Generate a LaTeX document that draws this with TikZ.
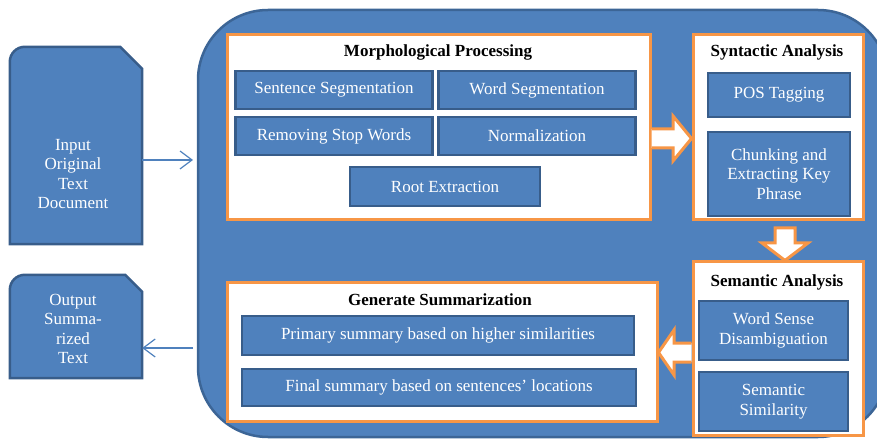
\documentclass[tikz,border=0pt]{standalone}
\usepackage{fontspec}
\setmainfont{Liberation Serif}
\usetikzlibrary{arrows.meta}
\definecolor{boxblue}{HTML}{4F81BD}
\definecolor{edgeblue}{HTML}{385D8A}
\definecolor{frameblue}{HTML}{3C6596}
\definecolor{boxorange}{HTML}{F79646}

\begin{document}
\begin{tikzpicture}[x=1pt,y=1pt,
   font=\fontsize{17}{19.5}\selectfont,
   stage/.style={draw=boxorange,line width=3pt,fill=white,inner sep=0pt},
   task/.style={draw=edgeblue,line width=2.5pt,fill=boxblue,text=white,align=center,inner sep=0pt},
   title/.style={font=\fontsize{17}{19.5}\selectfont\bfseries},
   doc/.style={draw=edgeblue,line width=2.5pt,fill=boxblue},
   doclabel/.style={text=white,align=center},
   flow/.style={draw=boxblue,line width=1.2pt,-{Straight Barb[length=12pt,width=18pt]}},
   barrow/.style={draw=boxorange,line width=3pt,fill=white,line join=miter}]
   \useasboundingbox (0,0) rectangle (877,439);
   \draw[draw=frameblue,fill=boxblue,line width=2.5pt,rounded corners=70pt] (198,2) rectangle (888,429);

   \node[minimum width=132pt,minimum height=197pt] (inp) at (76,293.5) {};
   \filldraw[doc] (inp.south west) -- ([yshift=-15pt]inp.north west) arc[start angle=180,end angle=90,radius=15pt]
     -- ([xshift=-22pt]inp.north east) -- ([yshift=-22pt]inp.north east) -- (inp.south east) -- cycle;
   \node[doclabel] (inplabel) at (73,265) {Input\\Original\\Text\\Document};
   \node[minimum width=132pt,minimum height=103pt] (outp) at (76,112.5) {};
   \filldraw[doc] (outp.south west) -- ([yshift=-15pt]outp.north west) arc[start angle=180,end angle=90,radius=15pt]
     -- ([xshift=-17pt]outp.north east) -- ([yshift=-17pt]outp.north east) -- (outp.south east) -- cycle;
   \node[doclabel] (outplabel) at (73,110) {Output\\Summa-\\rized\\Text};
   \coordinate (inarr) at (193,279);
   \coordinate (outarr) at (193,91);
   \draw[flow] (inp.east |- inarr) -- (inarr);
   \draw[flow] (outarr) -- (outarr -| outp.east);

   \node[stage,minimum width=423pt,minimum height=185pt] (morph) at (438.5,311.5) {};
   \node[title] (morphtitle) at (438,387) {Morphological Processing};
   \node[task,minimum width=197pt,minimum height=38pt] (sentseg) at (334,349) {Sentence Segmentation};
   \node[task,minimum width=197pt,minimum height=38pt] (wordseg) at (537,349) {Word Segmentation};
   \node[task,minimum width=197pt,minimum height=38pt] (stopw) at (334,303) {Removing Stop Words};
   \node[task,minimum width=197pt,minimum height=38pt] (norm) at (537,303) {Normalization};
   \node[task,minimum width=190pt,minimum height=39pt] (root) at (445,252.5) {Root Extraction};

   \node[stage,minimum width=170pt,minimum height=185pt] (synt) at (778,311.5) {};
   \node[title] (synttitle) at (777,387) {Syntactic Analysis};
   \node[task,minimum width=142pt,minimum height=44pt] (pos) at (779,344) {POS Tagging};
   \node[task,minimum width=142pt,minimum height=84pt] (chunk) at (779,265) {Chunking and\\Extracting Key\\Phrase};

   \node[stage,minimum width=170pt,minimum height=173pt] (sem) at (778,90.5) {};
   \node[title] (semtitle) at (777,157) {Semantic Analysis};
   \node[task,minimum width=149pt,minimum height=59pt] (wsd) at (773.5,108.5) {Word Sense\\Disambiguation};
   \node[task,minimum width=149pt,minimum height=59pt] (simil) at (773.5,37.5) {Semantic\\Similarity};

   \node[stage,minimum width=430pt,minimum height=138pt] (gen) at (442,87) {};
   \node[title] (gentitle) at (440,139) {Generate Summarization};
   \node[task,minimum width=392pt,minimum height=39pt] (primary) at (438,103.5) {Primary summary based on higher similarities};
   \node[task,minimum width=394pt,minimum height=37pt] (final) at (439,51.5) {Final summary based on sentences’ locations};

   \filldraw[barrow] (morph.east |- 0,291) -- (673,291) -- (673,278) -- (synt.west |- 0,300.5)
     -- (673,323) -- (673,310) -- (morph.east |- 0,310);
   \filldraw[barrow] (775,211) -- (795,211) -- (795,196) -- (808,196) -- (785,0 |- sem.north)
     -- (762,196) -- (775,196) -- cycle;
   \filldraw[barrow] (sem.west |- 0,77) -- (674,77) -- (674,64) -- (gen.east |- 0,86.5)
     -- (674,109) -- (674,96) -- (sem.west |- 0,96);
  \end{tikzpicture}
\end{document}
